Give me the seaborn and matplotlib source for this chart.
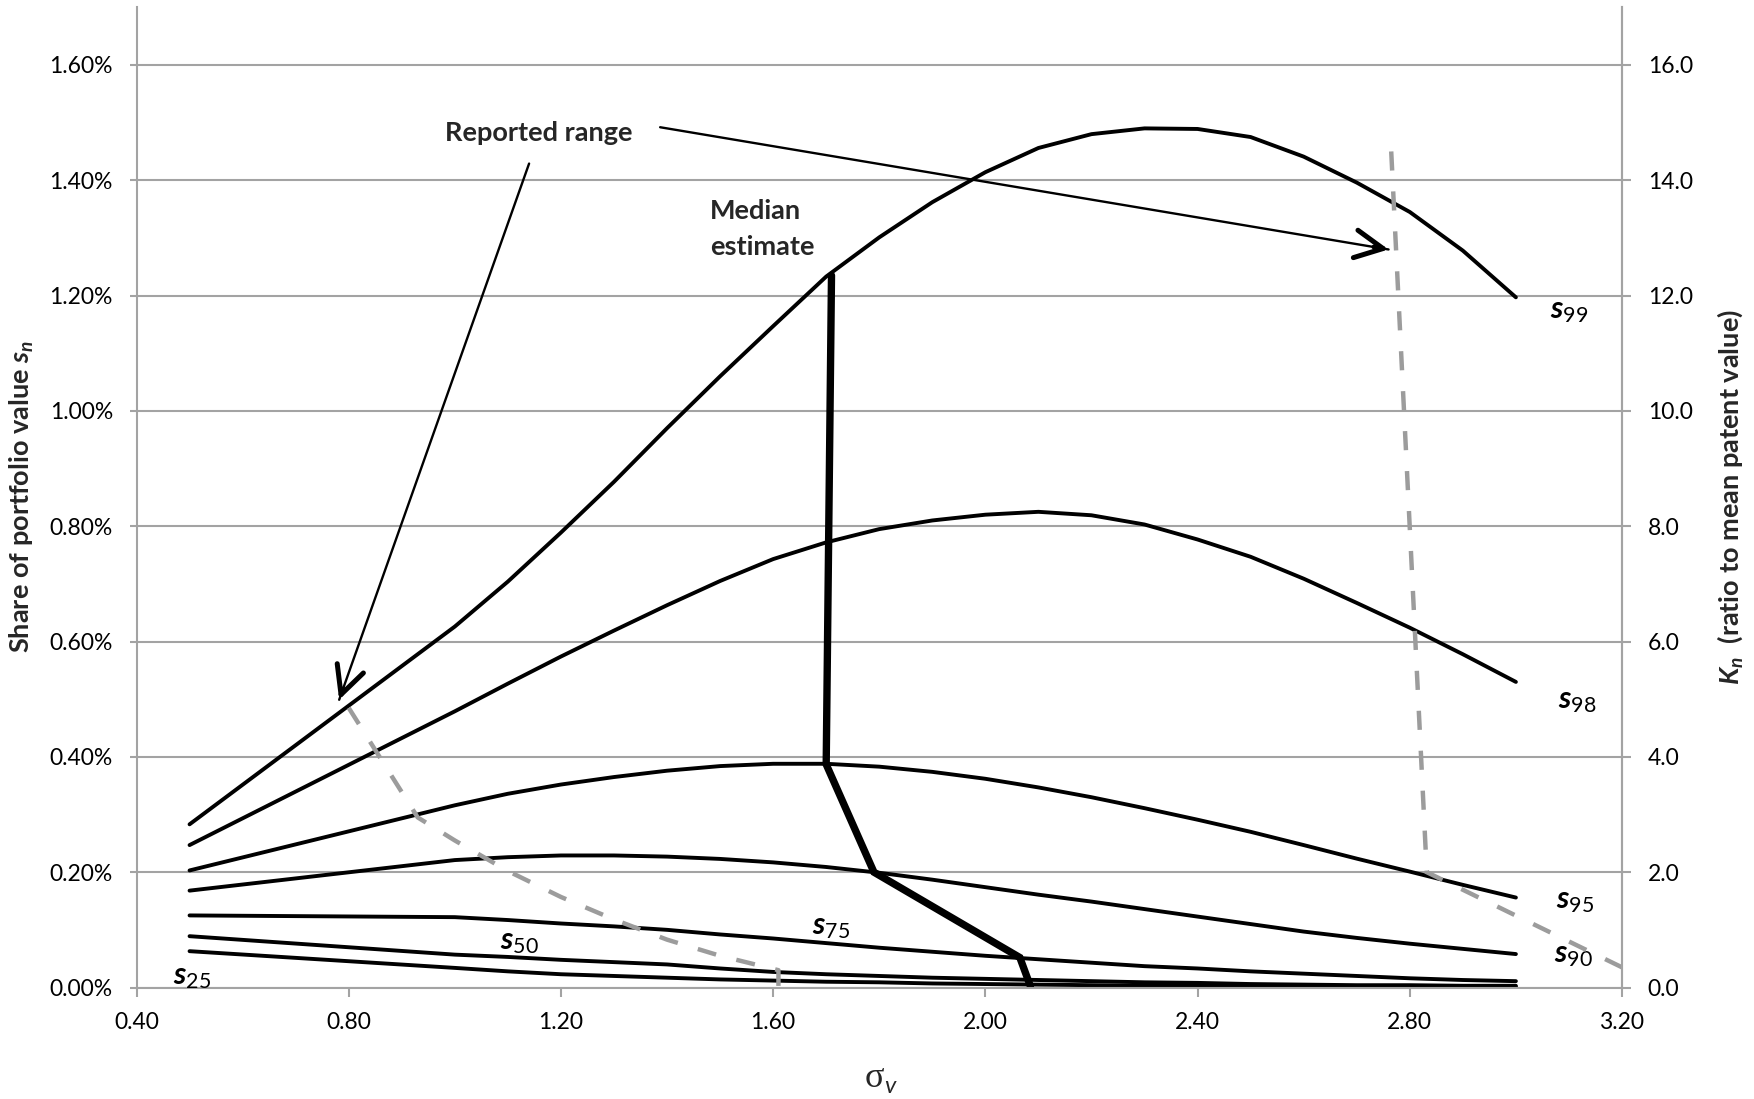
import numpy as np
import pandas as pd
import matplotlib
matplotlib.use("Agg")
import matplotlib.pyplot as plt
import seaborn as sns

# ---------------- data ----------------
sigma = [0.5, 1.0, 1.1, 1.2, 1.3, 1.4, 1.5, 1.6, 1.7, 1.8, 1.9, 2.0,
         2.1, 2.2, 2.3, 2.4, 2.5, 2.6, 2.7, 2.8, 2.9, 3.0]
s99 = [0.283, 0.626, 0.704, 0.789, 0.877, 0.970, 1.060, 1.147, 1.233, 1.301, 1.362, 1.414,
       1.456, 1.480, 1.490, 1.489, 1.475, 1.441, 1.396, 1.345, 1.278, 1.197]
s98 = [0.247, 0.479, 0.527, 0.574, 0.619, 0.663, 0.705, 0.743, 0.772, 0.795, 0.810, 0.820,
       0.825, 0.819, 0.803, 0.777, 0.747, 0.709, 0.667, 0.624, 0.578, 0.530]
s95 = [0.203, 0.316, 0.336, 0.352, 0.365, 0.376, 0.384, 0.388, 0.388, 0.383, 0.374, 0.362,
       0.347, 0.330, 0.311, 0.291, 0.270, 0.247, 0.2235, 0.201, 0.178, 0.156]
s90 = [0.168, 0.221, 0.226, 0.229, 0.229, 0.227, 0.223, 0.217, 0.209, 0.199, 0.187, 0.174,
       0.161, 0.149, 0.136, 0.123, 0.110, 0.097, 0.086, 0.076, 0.067, 0.058]
s75 = [0.125, 0.122, 0.117, 0.111, 0.106, 0.100, 0.092, 0.085, 0.077, 0.069, 0.062, 0.055,
       0.049, 0.043, 0.037, 0.033, 0.028, 0.024, 0.020, 0.016, 0.013, 0.011]
s50 = [0.089, 0.057, 0.053, 0.048, 0.044, 0.040, 0.033, 0.027, 0.023, 0.020, 0.017, 0.015,
       0.013, 0.011, 0.009, 0.008, 0.006, 0.005, 0.004, 0.004, 0.003, 0.003]
s25 = [0.063, 0.034, 0.028, 0.023, 0.020, 0.017, 0.014, 0.012, 0.010, 0.009, 0.007, 0.006,
       0.005, 0.004, 0.003, 0.003, 0.002, 0.002, 0.002, 0.001, 0.001, 0.001]

series_names = ["99", "98", "95", "90", "75", "50", "25"]

median_sigma = [1.71, 1.70, 1.79, 2.065, 2.085]
median_share = [1.235, 0.387, 0.200, 0.052, 0.002]

k_left_sigma = [0.80, 0.93, 1.0, 1.1, 1.2, 1.3, 1.4, 1.5, 1.61, 1.61]
k_left_value = [4.85, 2.95, 2.55, 2.02, 1.57, 1.18, 0.83, 0.55, 0.30, 0.0]
k_right_sigma = [2.765, 2.832, 3.20]
k_right_value = [14.5, 2.0, 0.35]

x_ticks = [0.40, 0.80, 1.20, 1.60, 2.00, 2.40, 2.80, 3.20]
left_ticks = [0.0, 0.2, 0.4, 0.6, 0.8, 1.0, 1.2, 1.4, 1.6]
right_ticks = [0.0, 2.0, 4.0, 6.0, 8.0, 10.0, 12.0, 14.0, 16.0]

# ---------------- style ----------------
sns.set_theme(style="white")
plt.rcParams["font.family"] = ["Lato", "DejaVu Sans"]
plt.rcParams["mathtext.fontset"] = "custom"
plt.rcParams["mathtext.it"] = "Lato:italic:bold"
plt.rcParams["mathtext.rm"] = "Lato"
plt.rcParams["mathtext.bf"] = "Lato:bold"

GRID = "#a3a3a3"
DASH = "#9c9c9c"
W, H = 1754, 1099

fig = plt.figure(figsize=(W / 100, H / 100), dpi=100)
ax = fig.add_axes([136.5 / W, 1 - 987.5 / H, (1622 - 136.5) / W, (987.5 - 7.3) / H])

# long-form frame of the curves
df = pd.DataFrame({
    "sigma": sigma * len(series_names),
    "share": s99 + s98 + s95 + s90 + s75 + s50 + s25,
    "series": sum([[n] * len(sigma) for n in series_names], []),
})
for n in series_names:
    sub = df[df["series"] == n]
    sns.lineplot(data=sub, x="sigma", y="share", ax=ax, color="black",
                 lw=2.8, estimator=None, sort=False, legend=False)
    ax.lines[-1].set_solid_joinstyle("round")

sns.lineplot(x=median_sigma, y=median_share, ax=ax, color="black", lw=5.3,
             estimator=None, sort=False, legend=False)
ax.lines[-1].set_solid_joinstyle("miter")

ax.set_xlim(0.4, 3.2)
ax.set_ylim(0, 1.7)
ax.set_xticks(x_ticks)
ax.set_xticklabels([f"{v:.2f}" for v in x_ticks])
ax.set_yticks(left_ticks)
ax.set_yticklabels([f"{v:.2f}%" for v in left_ticks])
ax.set_xlabel("")
ax.set_ylabel("")
ax.yaxis.grid(True, color=GRID, lw=1.5)
ax.xaxis.grid(False)
ax.set_axisbelow(True)
ax.spines["top"].set_visible(False)
for s in ["left", "bottom", "right"]:
    ax.spines[s].set_color(GRID)
    ax.spines[s].set_linewidth(1.5)
ax.tick_params(axis="y", direction="out", length=5, width=1.5, color=GRID,
               pad=12, labelsize=16.5, labelcolor="black", left=True)
ax.tick_params(axis="x", direction="out", length=6.5, width=1.5, color=GRID,
               pad=11, labelsize=16.5, labelcolor="black", bottom=True)

ax2 = ax.twinx()
for xs, ys in [(k_left_sigma, k_left_value), (k_right_sigma, k_right_value)]:
    sns.lineplot(x=xs, y=ys, ax=ax2, color=DASH, lw=3.2, estimator=None,
                 sort=False, legend=False)
    ln = ax2.lines[-1]
    ln.set_dashes((4.3, 4.7))
    ln.set_dash_capstyle("butt")
ax2.set_ylim(0, 17)
ax2.set_yticks(right_ticks)
ax2.set_yticklabels([f"{v:.1f}" for v in right_ticks])
ax2.set_ylabel("")
for s in ["top", "left", "bottom"]:
    ax2.spines[s].set_visible(False)
ax2.spines["right"].set_color(GRID)
ax2.spines["right"].set_linewidth(1.5)
ax2.tick_params(axis="y", direction="out", length=6.5, width=1.5, color=GRID,
                pad=12, labelsize=16.5, labelcolor="black", right=True)

# ---------------- labels on curves ----------------
label_pos = {"99": (3.064, 1.160), "98": (3.079, 0.485), "95": (3.075, 0.137),
             "90": (3.072, 0.0435), "75": (1.673, 0.093), "50": (1.085, 0.066),
             "25": (0.469, 0.005)}
for n in series_names:
    x, y = label_pos[n]
    ax.text(x, y, r"$s_{\mathrm{%s}}$" % n, fontsize=22, ha="left", va="baseline",
            color="black", clip_on=False)

# ---------------- annotations ----------------
ax.text(1.159, 1.4676, "Reported range", fontsize=19.5, fontweight="bold",
        ha="center", va="baseline")
ax.text(1.481, 1.332, "Median", fontsize=19.5, fontweight="bold", ha="left", va="baseline")
ax.text(1.481, 1.271, "estimate", fontsize=19.5, fontweight="bold", ha="left", va="baseline")


def arrow(start, tip):
    ax.annotate("", xy=tip, xytext=start,
                arrowprops=dict(arrowstyle="-", lw=1.7, color="black",
                                shrinkA=0, shrinkB=0))
    back = (tip[0] + 0.02 * (start[0] - tip[0]), tip[1] + 0.02 * (start[1] - tip[1]))
    ax.annotate("", xy=tip, xytext=back,
                arrowprops=dict(arrowstyle="->,head_length=2.0,head_width=1.0",
                                lw=3.6, color="black", mutation_scale=10,
                                shrinkA=0, shrinkB=0))


arrow((1.140, 1.429), (0.782, 0.499))
arrow((1.387, 1.492), (2.760, 1.280))

# ---------------- axis titles ----------------
fig.text(22 / W, 1 - 497 / H, r"Share of portfolio value $s_n$", rotation=90,
         ha="center", va="center", fontsize=19.5, fontweight="bold")
fig.text(1730 / W, 1 - 497 / H, r"$K_n$  (ratio to mean patent value)", rotation=90,
         ha="center", va="center", fontsize=19.5, fontweight="bold")
fig.text(865 / W, 1 - 1087 / H, "σ", family=["Liberation Serif", "DejaVu Serif"],
         fontsize=26, ha="left", va="baseline")
fig.text(884 / W, 1 - 1093 / H, "v", fontsize=17, style="italic",
         ha="left", va="baseline")

fig.savefig("out.png", dpi=100)
